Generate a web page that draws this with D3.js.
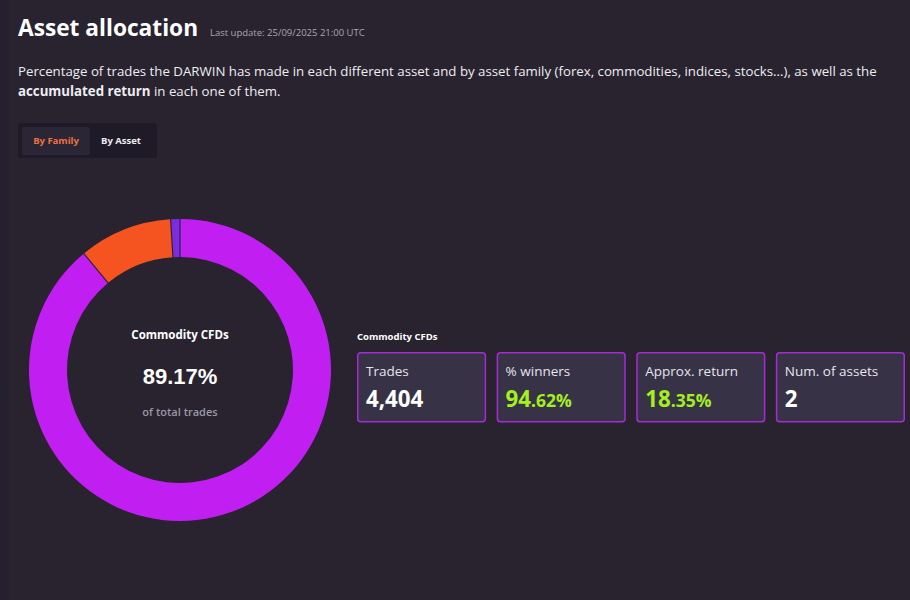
<!DOCTYPE html>
<html><head><meta charset="utf-8">
<script src="https://cdn.jsdelivr.net/npm/d3@7"></script>
<style>
html,body{margin:0;padding:0;background:#28232f;}
svg{display:block;font-family:"Open Sans",sans-serif;}
</style></head>
<body>
<script>
const categories = ["Commodity CFDs", "Forex", "Indices"];
const shares = [89.17, 9.93, 0.90];
const sliceColors = ["#c11ef2", "#f5531f", "#7a2de0"];
const statLabels = ["Trades", "% winners", "Approx. return", "Num. of assets"];
const statMain = ["4,404", "94", "18", "2"];
const statDecimals = ["", ".62%", ".35%", ""];
const statGreen = [false, true, true, false];

const W = 910, H = 600;
const svg = d3.select("body").append("svg").attr("width", W).attr("height", H);
svg.append("rect").attr("width", W).attr("height", H).attr("fill", "#28232f");
svg.append("rect").attr("width", 9).attr("height", H).attr("fill", "#242030");

// header
svg.append("text").attr("x", 18).attr("y", 36).attr("fill", "#fff")
  .attr("font-size", 22.7).attr("font-weight", 700).text("Asset allocation");
svg.append("text").attr("x", 210).attr("y", 36).attr("fill", "#a9a6b3")
  .attr("font-size", 9.5).text("Last update: 25/09/2025 21:00 UTC");
const d1 = svg.append("text").attr("x", 18).attr("y", 76).attr("fill", "#eeedf2").attr("font-size", 13.25);
d1.text("Percentage of trades the DARWIN has made in each different asset and by asset family (forex, commodities, indices, stocks...), as well as the");
const d2 = svg.append("text").attr("x", 18).attr("y", 96).attr("fill", "#eeedf2").attr("font-size", 13.25);
d2.append("tspan").attr("font-weight", 700).text("accumulated return");
d2.append("tspan").text(" in each one of them.");

// toggle
svg.append("rect").attr("x", 18).attr("y", 123).attr("width", 139).attr("height", 35).attr("rx", 3).attr("fill", "#1f1a27");
svg.append("rect").attr("x", 22).attr("y", 127).attr("width", 68).attr("height", 28).attr("rx", 2).attr("fill", "#2b2636");
svg.append("text").attr("x", 56).attr("y", 144).attr("text-anchor", "middle").attr("fill", "#f0713c")
  .attr("font-size", 9.5).attr("font-weight", 700).text("By Family");
svg.append("text").attr("x", 121).attr("y", 144).attr("text-anchor", "middle").attr("fill", "#eeedf2")
  .attr("font-size", 9.5).attr("font-weight", 700).text("By Asset");

// donut
const cx = 180, cy = 370, rOuter = 151, rInner = 113;
const pie = d3.pie().sort(null).value(d => d).padAngle(0.006);
const arc = d3.arc().innerRadius(rInner).outerRadius(rOuter);
const g = svg.append("g").attr("transform", `translate(${cx},${cy})`);
g.selectAll("path").data(pie(shares)).join("path")
  .attr("d", arc).attr("fill", (d, i) => sliceColors[i]);

g.append("text").attr("y", -31).attr("text-anchor", "middle").attr("fill", "#fff")
  .attr("font-size", 11.5).attr("font-weight", 700).text(categories[0]);
g.append("text").attr("y", 14).attr("text-anchor", "middle").attr("fill", "#fff")
  .attr("font-family", "'Liberation Sans', Arial, sans-serif")
  .attr("font-size", 22).attr("font-weight", 700).text(d3.format(".2f")(shares[0]) + "%");
g.append("text").attr("y", 46).attr("text-anchor", "middle").attr("fill", "#9b98a6")
  .attr("font-size", 11).attr("font-weight", 600).text("of total trades");

// stats
svg.append("text").attr("x", 357).attr("y", 340).attr("fill", "#fff")
  .attr("font-size", 9.5).attr("font-weight", 700).text(categories[0]);
const bx = d3.scaleBand().domain(d3.range(statLabels.length)).range([357, 905]).paddingInner(0.075).paddingOuter(0);
const boxes = svg.selectAll("g.box").data(statLabels).join("g").attr("class", "box")
  .attr("transform", (d, i) => `translate(${bx(i)},352)`);
boxes.append("rect").attr("x", 0.75).attr("y", 0.75).attr("width", bx.bandwidth() - 1.5).attr("height", 69)
  .attr("rx", 3).attr("fill", "#383246").attr("stroke", "#a42bd6").attr("stroke-width", 1.5);
boxes.append("text").attr("x", 9).attr("y", 24).attr("fill", "#e6e5ec").attr("font-size", 13.5).text(d => d);
const vt = boxes.append("text").attr("x", 9).attr("y", 55).attr("font-weight", 700)
  .attr("fill", (d, i) => statGreen[i] ? "#a3ef1f" : "#ffffff");
vt.append("tspan").attr("font-size", 22.3).text((d, i) => statMain[i]);
vt.append("tspan").attr("font-size", 17.5).text((d, i) => statDecimals[i]);
</script>
</body></html>
